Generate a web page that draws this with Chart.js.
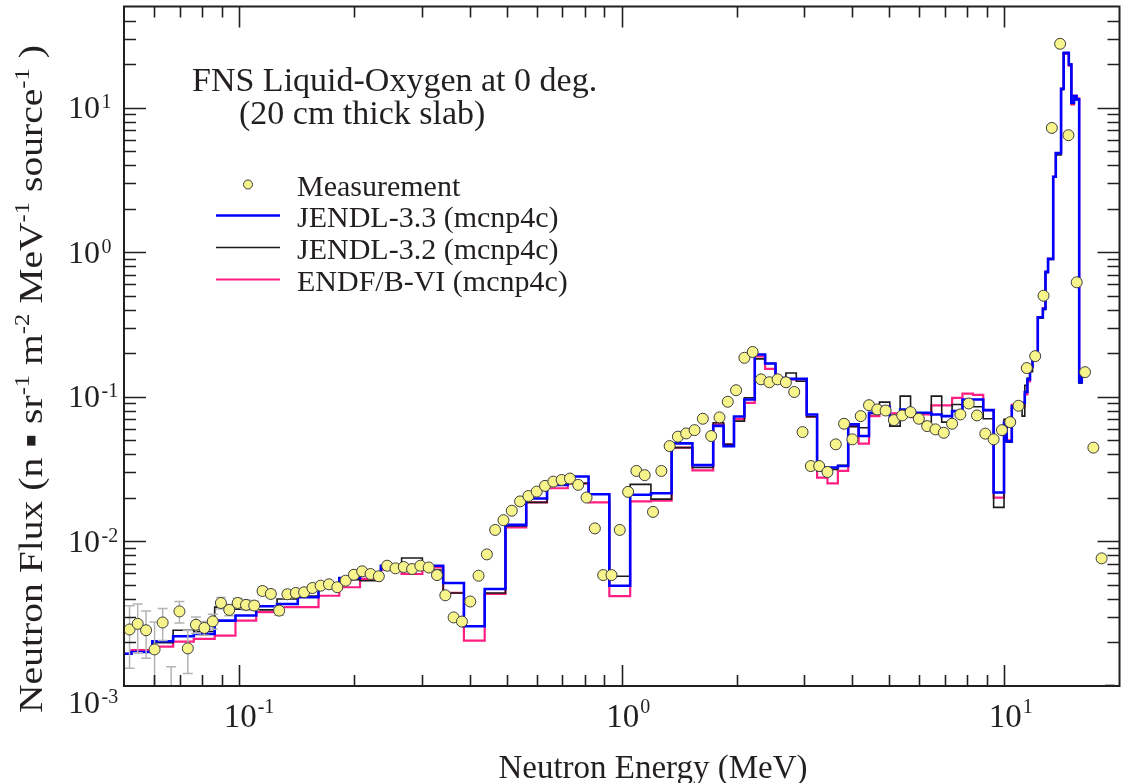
<!DOCTYPE html>
<html>
<head>
<meta charset="utf-8">
<script src="https://cdn.jsdelivr.net/npm/chart.js@4.4.1/dist/chart.umd.min.js"></script>
<style>
  html, body { margin: 0; padding: 0; background: #fff; }
</style>
</head>
<body>
<canvas id="spectrum" width="1126" height="783"></canvas>
<script>
// histogram bin edges (MeV) shared by the three mcnp4c calculations
const binEdges = [
    0.0462, 0.0523, 0.0593, 0.0672, 0.0761, 0.0863, 0.0978, 0.1108, 0.1256, 0.1423,
    0.1612, 0.1827, 0.2070, 0.2346, 0.2658, 0.3012, 0.3414, 0.3868, 0.4383, 0.4967,
    0.5628, 0.6378, 0.7227, 0.8190, 0.9281, 1.052, 1.192, 1.350, 1.530, 1.734,
    1.846, 1.965, 2.092, 2.227, 2.370, 2.523, 2.686, 2.859, 3.044, 3.240,
    3.449, 3.672, 3.908, 4.160, 4.429, 4.715, 5.019, 5.342, 5.687, 6.054,
    6.444, 6.860, 7.302, 7.773, 8.274, 8.808, 9.376, 9.981,
    10.14, 10.46, 10.79, 11.13, 11.31, 11.49, 11.67, 11.85, 12.23, 12.61,
    12.81, 13.01, 13.42, 13.63, 14.07, 14.29, 14.74, 14.97, 15.21, 15.45,
    15.69, 15.94, 16.19
];

// flux per bin
const jendl33 = [
    1.67e-3, 1.72e-3, 2.04e-3, 2.21e-3, 2.29e-3, 2.83e-3, 3.07e-3, 3.56e-3, 3.69e-3, 4.11e-3,
    4.89e-3, 5.58e-3, 5.85e-3, 6.79e-3, 6.65e-3, 6.79e-3, 5.16e-3, 2.59e-3, 4.69e-3, 1.30e-2,
    1.98e-2, 2.46e-2, 2.81e-2, 2.12e-2, 4.94e-3, 2.10e-2, 2.15e-2, 4.76e-2, 3.37e-2,
    6.29e-2, 4.56e-2, 7.31e-2, 9.58e-2, 0.196, 0.170, 0.135, 0.133, 0.133, 7.55e-2,
    3.24e-2, 3.24e-2, 3.32e-2, 6.44e-2, 5.35e-2, 7.76e-2, 8.53e-2, 7.28e-2, 8.17e-2, 7.76e-2,
    7.76e-2, 7.55e-2, 7.35e-2, 7.96e-2, 9.58e-2, 9.58e-2, 8.09e-2, 2.18e-2,
    6.62e-2, 4.92e-2, 8.61e-2, 8.40e-2, 9.09e-2, 0.108, 0.132, 0.161, 0.187, 0.355,
    0.406, 0.731, 0.899, 3.32, 4.84, 13.5, 23.9, 19.9, 10.8, 12.0,
    11.4, 0.126, 0.145
];
const jendl32 = [
    1.67e-3, 1.72e-3, 1.99e-3, 2.43e-3, 2.38e-3, 3.51e-3, 3.40e-3, 3.36e-3, 4.00e-3, 4.18e-3,
    4.89e-3, 5.43e-3, 5.35e-3, 6.62e-3, 7.67e-3, 6.34e-3, 4.40e-3, 2.59e-3, 4.40e-3, 1.28e-2,
    1.86e-2, 2.46e-2, 2.52e-2, 2.12e-2, 5.74e-3, 2.48e-2, 1.96e-2, 4.45e-2, 3.24e-2,
    6.62e-2, 4.69e-2, 6.79e-2, 9.85e-2, 0.183, 0.170, 0.132, 0.146, 0.128, 7.28e-2,
    3.07e-2, 3.15e-2, 3.36e-2, 6.21e-2, 6.11e-2, 7.65e-2, 9.18e-2, 6.27e-2, 0.101, 7.55e-2,
    6.68e-2, 0.101, 6.68e-2, 8.85e-2, 8.61e-2, 8.53e-2, 7.05e-2, 1.72e-2,
    7.00e-2, 4.85e-2, 8.40e-2, 9.00e-2, 7.35e-2, 0.120, 0.135, 0.149, 0.182, 0.350,
    0.400, 0.720, 0.890, 3.30, 4.70, 13.3, 23.9, 19.8, 10.7, 11.9,
    11.3, 0.124, 0.140
];
const endfb6 = [
    1.67e-3, 1.77e-3, 1.87e-3, 2.03e-3, 2.12e-3, 2.23e-3, 2.83e-3, 3.24e-3, 3.51e-3, 3.51e-3,
    4.21e-3, 4.82e-3, 5.50e-3, 6.37e-3, 5.95e-3, 6.62e-3, 4.40e-3, 2.06e-3, 4.33e-3, 1.25e-2,
    1.86e-2, 2.33e-2, 2.52e-2, 1.86e-2, 4.18e-3, 1.89e-2, 1.91e-2, 4.45e-2, 3.10e-2,
    6.44e-2, 4.69e-2, 7.00e-2, 9.09e-2, 0.190, 0.156, 0.125, 0.132, 0.132, 7.28e-2,
    2.76e-2, 2.52e-2, 3.07e-2, 6.27e-2, 4.74e-2, 7.35e-2, 8.17e-2, 7.67e-2, 7.96e-2, 7.23e-2,
    7.55e-2, 8.71e-2, 8.71e-2, 9.84e-2, 0.105, 0.103, 8.09e-2, 2.01e-2,
    6.70e-2, 5.00e-2, 8.80e-2, 8.50e-2, 8.60e-2, 0.104, 0.128, 0.163, 0.187, 0.355,
    0.410, 0.730, 0.900, 3.32, 4.80, 13.5, 23.5, 19.5, 10.5, 12.1,
    11.6, 0.128, 0.145
];

// TOF measurement
const measEnergy = [
    0.0517, 0.0543, 0.0571, 0.0601, 0.0631, 0.0664, 0.0698, 0.0734, 0.0771, 0.0811,
    0.0853, 0.0896, 0.0942, 0.0991, 0.1042, 0.1095, 0.1151, 0.1210, 0.1272, 0.1337,
    0.1406, 0.1478, 0.1554, 0.1633, 0.1717, 0.1805, 0.1898, 0.1995, 0.2097, 0.2205,
    0.2318, 0.2437, 0.2562, 0.2693, 0.2831, 0.2976, 0.3129, 0.3289, 0.3458, 0.3635,
    0.3822, 0.4018, 0.4224, 0.4440, 0.4668, 0.4907, 0.5159, 0.5423, 0.5701, 0.5994,
    0.6301, 0.6624, 0.6964, 0.7321, 0.7696, 0.8091, 0.8506, 0.8942, 0.9400, 0.9882,
    1.039, 1.092, 1.148, 1.207, 1.269, 1.334, 1.402, 1.474, 1.550, 1.629,
    1.713, 1.801, 1.893, 1.990, 2.092, 2.199, 2.312, 2.431, 2.555, 2.686,
    2.824, 2.969, 3.121, 3.281, 3.449, 3.626, 3.812, 4.007, 4.213, 4.429,
    4.656, 4.894, 5.145, 5.409, 5.687, 5.978, 6.285, 6.607, 6.946, 7.302,
    7.676, 8.070, 8.484, 8.919, 9.376, 9.857, 10.36, 10.89, 11.45, 12.04,
    12.66, 13.31, 13.99, 14.71, 15.46, 16.25, 17.09, 17.96, 18.88
];
const measFlux = [
    2.46e-3, 2.69e-3, 2.43e-3, 1.79e-3, 2.75e-3, 8.0e-4, 3.28e-3, 1.82e-3, 2.65e-3, 2.52e-3,
    2.80e-3, 3.75e-3, 3.36e-3, 3.75e-3, 3.64e-3, 3.60e-3, 4.54e-3, 4.33e-3, 3.32e-3, 4.31e-3,
    4.40e-3, 4.45e-3, 4.76e-3, 4.94e-3, 5.05e-3, 4.82e-3, 5.35e-3, 5.88e-3, 6.21e-3, 5.95e-3,
    5.74e-3, 6.79e-3, 6.51e-3, 6.65e-3, 6.44e-3, 6.79e-3, 6.60e-3, 5.85e-3, 4.24e-3, 2.98e-3,
    2.79e-3, 3.84e-3, 5.79e-3, 8.13e-3, 1.20e-2, 1.40e-2, 1.63e-2, 1.89e-2, 2.06e-2, 2.21e-2,
    2.42e-2, 2.59e-2, 2.66e-2, 2.72e-2, 2.46e-2, 2.01e-2, 1.23e-2, 5.85e-3, 5.85e-3, 1.20e-2,
    2.20e-2, 3.07e-2, 2.87e-2, 1.60e-2, 3.07e-2, 4.56e-2, 5.30e-2, 5.58e-2, 5.88e-2, 7.05e-2,
    5.35e-2, 7.20e-2, 9.24e-2, 0.111, 0.186, 0.204, 0.132, 0.126, 0.132, 0.126,
    0.108, 5.70e-2, 3.32e-2, 3.32e-2, 3.02e-2, 4.69e-2, 6.51e-2, 5.08e-2, 7.35e-2, 8.75e-2,
    8.17e-2, 8.04e-2, 6.90e-2, 7.43e-2, 7.83e-2, 7.05e-2, 6.27e-2, 5.95e-2, 5.64e-2, 6.51e-2,
    7.55e-2, 8.99e-2, 7.43e-2, 5.56e-2, 5.08e-2, 5.88e-2, 6.68e-2, 8.67e-2, 0.158, 0.191,
    0.50, 7.23, 27.6, 6.44, 0.619, 0.148, 4.45e-2, 7.63e-3, 6.3e-4
];
// relative uncertainty of each measured point, %
const measErrPct = [
    46, 37, 36, 55, 25, 70, 17, 33, 13, 11,
    12, 9, 9, 8, 8, 7, 6, 6, 7, 6,
    5, 5, 5, 5, 4, 4, 4, 4, 4, 4,
    4, 4, 4, 4, 4, 4, 4, 4, 4, 4,
    4, 4, 4, 3, 3, 3, 3, 3, 3, 3,
    3, 3, 3, 3, 3, 3, 3, 3, 3, 3,
    3, 3, 3, 3, 3, 3, 3, 3, 3, 3,
    3, 3, 3, 3, 3, 3, 3, 3, 3, 3,
    3, 3, 3, 3, 3, 3, 3, 3, 3, 3,
    3, 3, 3, 3, 3, 3, 3, 3, 3, 3,
    3, 3, 3, 3, 3, 3, 3, 3, 3, 3,
    3, 3, 3, 3, 3, 3, 4, 5, 62
];

const xLabelDecades = [-1, 0, 1];
const yLabelDecades = [-3, -2, -1, 0, 1];

const SERIF = '"Liberation Serif", "Times New Roman", serif';
const INK = '#231f20';

function stepPoints(vals) {
    return binEdges.map((e, i) => ({ x: e, y: vals[Math.min(i, vals.length - 1)] }));
}

// draws text runs with superscripts, returns width
function richText(ctx, parts, x, y, size, supScale, rise) {
    let cx = x;
    parts.forEach(p => {
        const fs = p.sup ? size * supScale : size;
        ctx.font = fs + 'px ' + SERIF;
        ctx.fillText(p.t, cx, p.sup ? y - rise : y);
        cx += ctx.measureText(p.t).width;
    });
    return cx - x;
}

// grey error bars under the circles
const errorBars = {
    id: 'errorBars',
    beforeDatasetDraw(chart, args) {
        if (args.index !== 0) return;
        const { ctx, chartArea: a, scales: { x, y } } = chart;
        ctx.save();
        ctx.beginPath();
        ctx.rect(a.left, a.top, a.right - a.left, a.bottom - a.top);
        ctx.clip();
        ctx.strokeStyle = '#b4b4b4';
        ctx.lineWidth = 1.5;
        measEnergy.forEach((e, i) => {
            const v = measFlux[i];
            const d = v * measErrPct[i] / 100;
            const px = x.getPixelForValue(e);
            const top = y.getPixelForValue(v + d);
            const bot = y.getPixelForValue(Math.max(v - d, 1e-6));
            ctx.beginPath();
            ctx.moveTo(px, top); ctx.lineTo(px, bot);
            ctx.moveTo(px - 5, top); ctx.lineTo(px + 5, top);
            ctx.moveTo(px - 5, bot); ctx.lineTo(px + 5, bot);
            ctx.stroke();
        });
        ctx.restore();
    }
};

// frame, inward ticks, labels, legend and note
const decor = {
    id: 'decor',
    afterDraw(chart) {
        const { ctx, chartArea: a, scales: { x, y } } = chart;
        ctx.save();
        ctx.strokeStyle = INK;
        ctx.fillStyle = INK;

        // ticks on all four sides
        ctx.lineWidth = 1.6;
        ctx.beginPath();
        for (let d = -2; d <= 1; d++) {
            for (let m = 1; m <= 9; m++) {
                const v = m * Math.pow(10, d);
                if (v <= x.min * 1.001 || v >= x.max * 0.999) continue;
                const px = Math.round(x.getPixelForValue(v)) + 0.5;
                const len = m === 1 ? 21 : 11;
                ctx.moveTo(px, a.bottom); ctx.lineTo(px, a.bottom - len);
                ctx.moveTo(px, a.top); ctx.lineTo(px, a.top + len);
            }
        }
        for (let d = -3; d <= 1; d++) {
            for (let m = 1; m <= 9; m++) {
                const v = m * Math.pow(10, d);
                if (v <= y.min * 1.001 || v >= y.max * 0.999) continue;
                const py = Math.round(y.getPixelForValue(v)) + 0.5;
                const len = m === 1 ? 22 : 12;
                ctx.moveTo(a.left, py); ctx.lineTo(a.left + len, py);
                ctx.moveTo(a.right, py); ctx.lineTo(a.right - len, py);
            }
        }
        ctx.stroke();
        ctx.lineWidth = 2;
        ctx.strokeRect(a.left, a.top, a.right - a.left, a.bottom - a.top);

        // x tick labels: "10" centred on the tick
        ctx.textBaseline = 'alphabetic';
        xLabelDecades.forEach(d => {
            const px = x.getPixelForValue(Math.pow(10, d));
            ctx.font = '33px ' + SERIF;
            const w = ctx.measureText('10').width;
            ctx.fillText('10', px - w / 2 + 1, 727);
            ctx.font = '20px ' + SERIF;
            ctx.fillText(String(d), px + w / 2 + 2, 713);
        });

        // y tick labels
        yLabelDecades.forEach(d => {
            let py = y.getPixelForValue(Math.pow(10, d)) + 10.5;
            if (d === -3) py = 713;
            ctx.font = '32px ' + SERIF;
            const w = ctx.measureText('10').width;
            ctx.fillText('10', 100 - w, py);
            ctx.font = '20px ' + SERIF;
            ctx.fillText(String(d), 101.5, py - 10);
        });

        // axis titles
        ctx.font = '33px ' + SERIF;
        ctx.textAlign = 'center';
        ctx.fillText('Neutron Energy (MeV)', 653, 778);
        ctx.textAlign = 'left';

        const yTitle = [
            { t: 'Neutron Flux (n ' }, { t: '\u25AA' }, { t: ' sr' }, { t: '-1', sup: true },
            { t: ' m' }, { t: '-2', sup: true }, { t: ' MeV' }, { t: '-1', sup: true },
            { t: ' source' }, { t: '-1', sup: true }, { t: ' )' }
        ];
        ctx.save();
        ctx.translate(42, 713);
        ctx.rotate(-Math.PI / 2);
        ctx.scale(1.165, 1);
        richText(ctx, yTitle, 0, 0, 34, 0.62, 13);
        ctx.restore();

        // note
        ctx.font = '34px ' + SERIF;
        ctx.fillText('FNS Liquid-Oxygen at 0 deg.', 192, 91);
        ctx.fillText('(20 cm thick slab)', 239, 124);

        // legend
        const ds = chart.data.datasets;
        const rows = [196, 227, 259, 291];
        ctx.font = '30px ' + SERIF;
        ds.forEach((set, i) => {
            const ly = rows[i] - 11.5;
            if (i === 0) {
                ctx.beginPath();
                ctx.arc(248, ly, 4.5, 0, Math.PI * 2);
                ctx.fillStyle = set.backgroundColor;
                ctx.fill();
                ctx.lineWidth = 1;
                ctx.strokeStyle = set.borderColor;
                ctx.stroke();
            } else {
                ctx.beginPath();
                ctx.moveTo(216, ly); ctx.lineTo(280, ly);
                ctx.lineWidth = set.borderWidth;
                ctx.strokeStyle = set.borderColor;
                ctx.stroke();
            }
            ctx.fillStyle = INK;
            ctx.fillText(set.label, 297, rows[i]);
        });
        ctx.restore();
    }
};

new Chart(document.getElementById('spectrum'), {
    type: 'line',
    data: {
        datasets: [
            {
                label: 'Measurement',
                data: measEnergy.map((e, i) => ({ x: e, y: measFlux[i] })),
                showLine: false,
                pointRadius: 5.5,
                pointBackgroundColor: '#f8f48c',
                pointBorderColor: '#3c3c3c',
                pointBorderWidth: 1,
                backgroundColor: '#f8f48c',
                borderColor: '#3c3c3c',
                order: 0
            },
            {
                label: 'JENDL-3.3 (mcnp4c)',
                data: stepPoints(jendl33),
                stepped: 'before',
                borderColor: '#0000ff',
                borderWidth: 2.6,
                pointRadius: 0,
                fill: false,
                order: 1
            },
            {
                label: 'JENDL-3.2 (mcnp4c)',
                data: stepPoints(jendl32),
                stepped: 'before',
                borderColor: '#1a1a1a',
                borderWidth: 1.6,
                pointRadius: 0,
                fill: false,
                order: 2
            },
            {
                label: 'ENDF/B-VI (mcnp4c)',
                data: stepPoints(endfb6),
                stepped: 'before',
                borderColor: '#ff1e82',
                borderWidth: 2.2,
                pointRadius: 0,
                fill: false,
                order: 3
            }
        ]
    },
    options: {
        responsive: false,
        animation: false,
        layout: { padding: { left: 124, right: 4, top: 5, bottom: 97 } },
        plugins: {
            legend: { display: false },
            tooltip: { enabled: false }
        },
        scales: {
            x: { type: 'logarithmic', min: 0.05, max: 20, display: false },
            y: { type: 'logarithmic', min: 1e-3, max: 50, display: false }
        }
    },
    plugins: [errorBars, decor]
});
</script>
</body>
</html>
